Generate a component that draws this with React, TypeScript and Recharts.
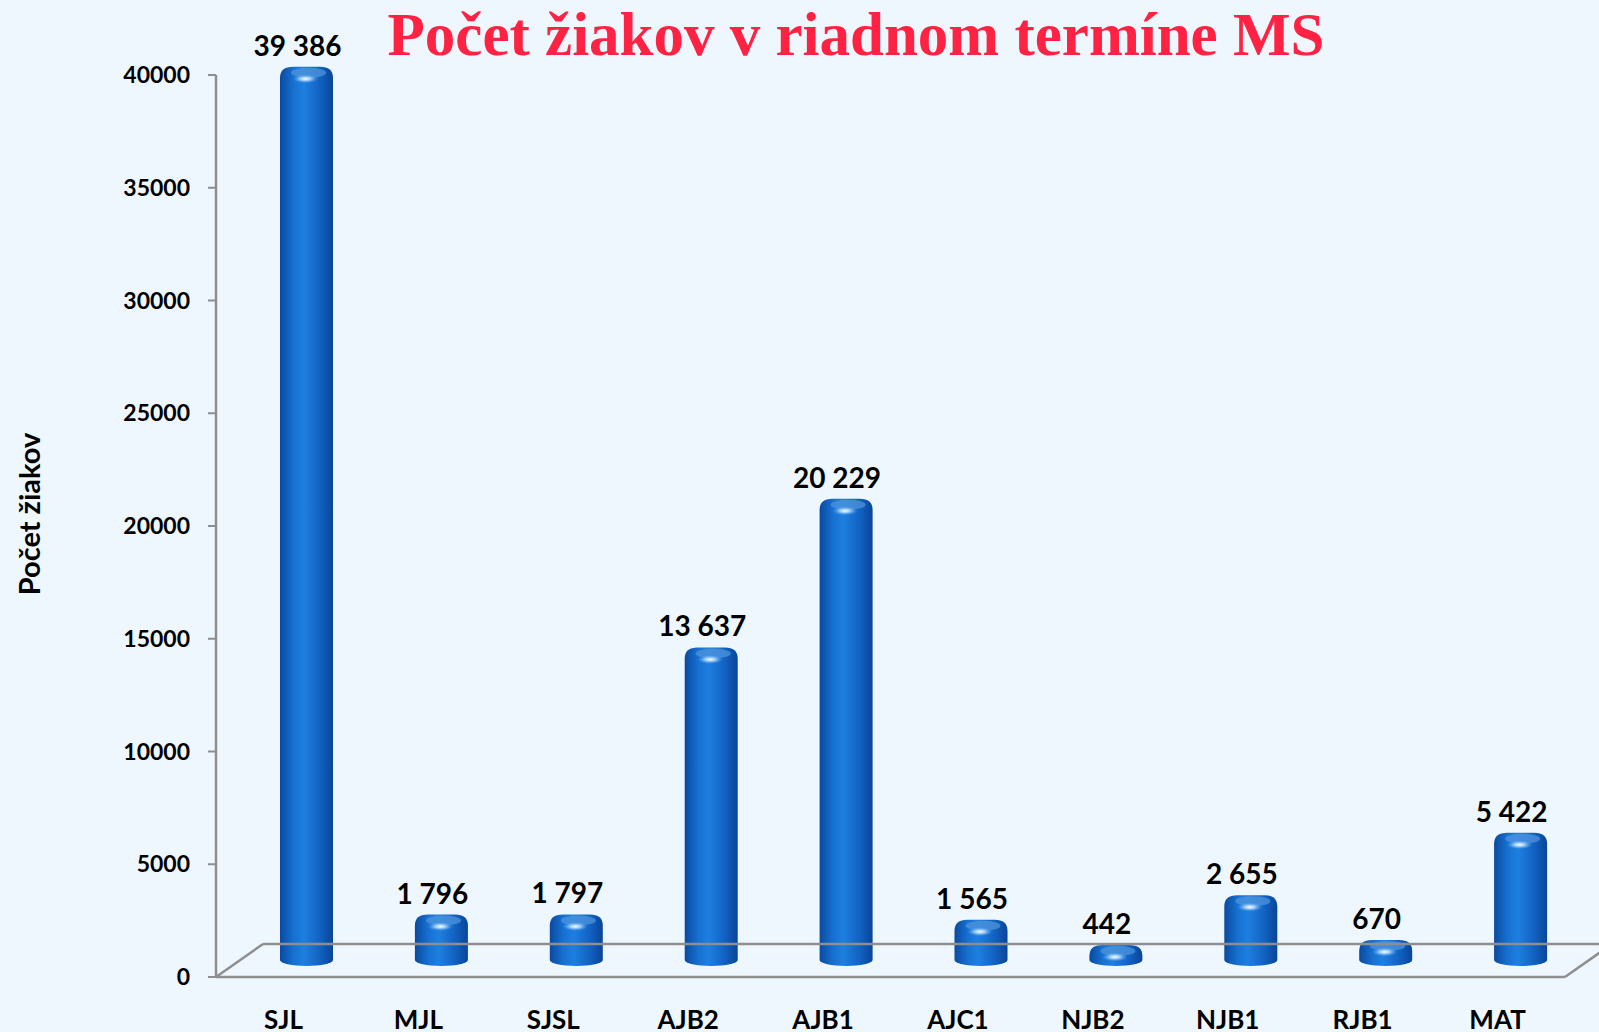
import { Bar, BarChart, LabelList, ReferenceLine, XAxis, YAxis } from "recharts";

const categories = ["SJL", "MJL", "SJSL", "AJB2", "AJB1", "AJC1", "NJB2", "NJB1", "RJB1", "MAT"];
const pupils = [39386, 1796, 1797, 13637, 20229, 1565, 442, 2655, 670, 5422];
const yTicks = [0, 5000, 10000, 15000, 20000, 25000, 30000, 35000, 40000];

const data = categories.map((name, i) => ({ name, pupils: pupils[i] }));

// 3D look: bars sit halfway back on the floor
const SHIFT_X = 23;
const SHIFT_Y = 11;
const DEPTH_X = 47;
const DEPTH_Y = 33;
const AXIS = "#8e8e8e";
const FONT = "Lato, 'Open Sans', sans-serif";

const fmt = (v: number) => String(v).replace(/\B(?=(\d{3})+(?!\d))/g, " ");

// eslint-disable-next-line @typescript-eslint/no-explicit-any
function Cylinder(props: any) {
  const { x, y, width, height } = props;
  const r = width / 2;
  const cx = x + r + SHIFT_X;
  const top = y - SHIFT_Y;
  const bottom = Math.max(y + height - SHIFT_Y - 6, top + 2);
  const ry = 11;
  const c = 13;
  const body = [
    `M ${cx - r} ${bottom}`,
    `L ${cx - r} ${top}`,
    `Q ${cx - r} ${top - ry} ${cx - r + c} ${top - ry}`,
    `L ${cx + r - c} ${top - ry}`,
    `Q ${cx + r} ${top - ry} ${cx + r} ${top}`,
    `L ${cx + r} ${bottom}`,
    `A ${r} 6 0 0 1 ${cx - r} ${bottom}`,
    "Z",
  ].join(" ");
  return (
    <g>
      <path d={body} fill="url(#cylBody)" />
      <ellipse cx={cx + 2} cy={top - ry + 6} rx={r - 9} ry={5} fill="#4d94dc" opacity={0.75} />
      <ellipse cx={cx - 1} cy={top + 1} rx={13} ry={4.5} fill="url(#cylShine)" />
    </g>
  );
}

// eslint-disable-next-line @typescript-eslint/no-explicit-any
function ValueLabel(props: any) {
  const { x, y, width, value } = props;
  return (
    <text
      x={x + width / 2 + SHIFT_X - 9}
      y={y - 33}
      textAnchor="middle"
      fontFamily={FONT}
      fontWeight={700}
      fontSize={28}
      fill="#000"
    >
      {fmt(value)}
    </text>
  );
}

// eslint-disable-next-line @typescript-eslint/no-explicit-any
function Floor(props: any) {
  const { x1, y1, x2 } = props;
  return (
    <g stroke={AXIS} strokeWidth={2.5} fill="none">
      <line x1={x1} y1={y1} x2={x2} y2={y1} />
      <line x1={x1 + DEPTH_X} y1={y1 - DEPTH_Y} x2={x2 + DEPTH_X} y2={y1 - DEPTH_Y} />
      <line x1={x1} y1={y1} x2={x1 + DEPTH_X} y2={y1 - DEPTH_Y} />
      <line x1={x2} y1={y1} x2={x2 + DEPTH_X} y2={y1 - DEPTH_Y} />
    </g>
  );
}

// eslint-disable-next-line @typescript-eslint/no-explicit-any
function CategoryTick(props: any) {
  const { x, y, payload } = props;
  return (
    <text x={x} y={y + 44} textAnchor="middle" fontFamily={FONT} fontWeight={700} fontSize={26} fill="#000">
      {payload.value}
    </text>
  );
}

export default function App() {
  return (
    <div style={{ position: "absolute", left: 0, top: 0, width: 1599, height: 1032, background: "#eff7fe" }}>
      <BarChart
        width={1599}
        height={1032}
        data={data}
        margin={{ top: 75, right: 34, bottom: 0, left: 0 }}
        barCategoryGap={0}
        style={{ overflow: "visible" }}
      >
        <defs>
          <linearGradient id="cylBody" x1="0" y1="0" x2="1" y2="0">
            <stop offset="0%" stopColor="#0a4aa0" />
            <stop offset="25%" stopColor="#1670d0" />
            <stop offset="45%" stopColor="#1e7fe0" />
            <stop offset="75%" stopColor="#1262c2" />
            <stop offset="100%" stopColor="#094598" />
          </linearGradient>
          <radialGradient id="cylShine">
            <stop offset="0%" stopColor="#ffffff" stopOpacity={1} />
            <stop offset="40%" stopColor="#bfe0ff" stopOpacity={0.8} />
            <stop offset="100%" stopColor="#4aa0f0" stopOpacity={0} />
          </radialGradient>
        </defs>
        <XAxis
          dataKey="name"
          height={55}
          axisLine={false}
          tickLine={false}
          tick={<CategoryTick />}
          interval={0}
        />
        <YAxis
          width={216}
          domain={[0, 40000]}
          ticks={yTicks}
          interval={0}
          axisLine={{ stroke: AXIS, strokeWidth: 2.5 }}
          tickLine={{ stroke: AXIS, strokeWidth: 2 }}
          tickSize={8}
          tickMargin={18}
          tick={{ fontFamily: FONT, fontWeight: 700, fontSize: 23, fill: "#000" }}
        />
        <ReferenceLine y={0} shape={<Floor />} ifOverflow="visible" />
        <Bar dataKey="pupils" barSize={53} shape={<Cylinder />} isAnimationActive={false}>
          <LabelList dataKey="pupils" content={<ValueLabel />} />
        </Bar>
      </BarChart>
      <svg width={1599} height={1032} style={{ position: "absolute", left: 0, top: 0, pointerEvents: "none" }}>
        <text
          x={856}
          y={55}
          textAnchor="middle"
          fontFamily="'Liberation Serif', serif"
          fontWeight={700}
          fontSize={61}
          fill="#ff2242"
        >
          Počet žiakov v riadnom termíne MS
        </text>
        <text
          x={40}
          y={514}
          transform="rotate(-90 40 514)"
          textAnchor="middle"
          fontFamily={FONT}
          fontWeight={700}
          fontSize={29}
          fill="#000"
        >
          Počet žiakov
        </text>
      </svg>
    </div>
  );
}
